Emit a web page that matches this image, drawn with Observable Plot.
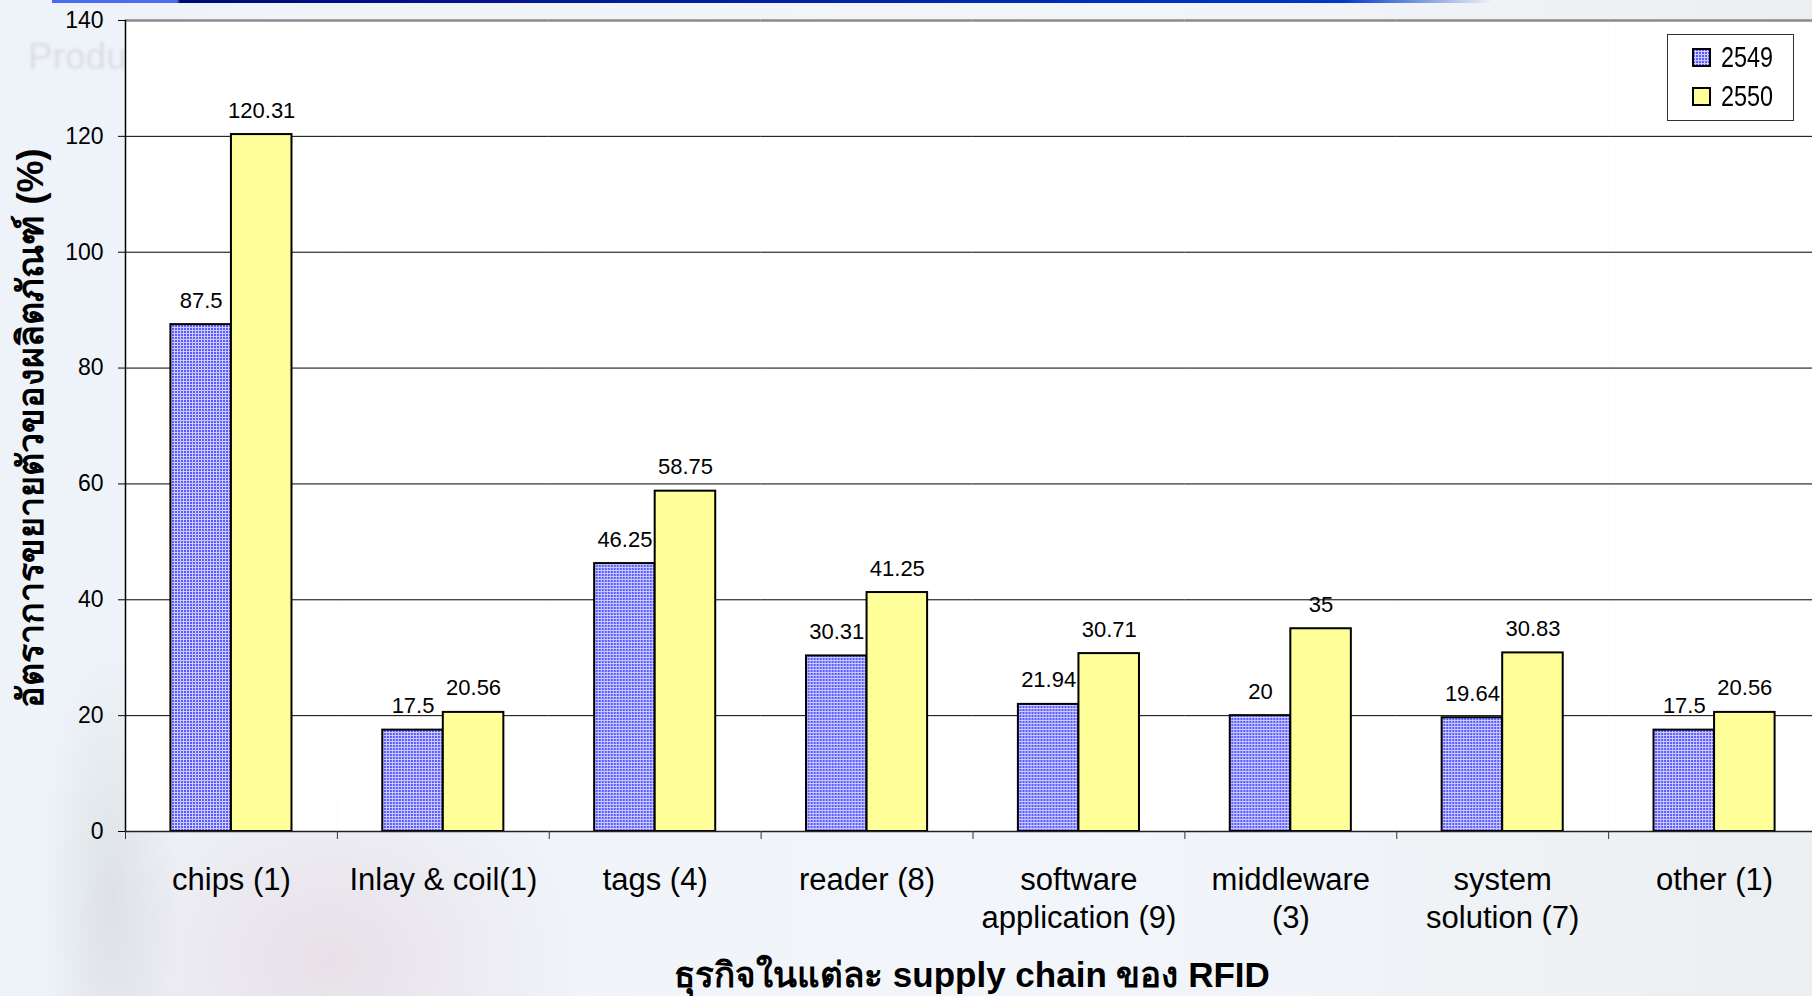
<!DOCTYPE html>
<html>
<head>
<meta charset="utf-8">
<script src="https://cdn.jsdelivr.net/npm/d3@7"></script>
<script src="https://cdn.jsdelivr.net/npm/@observablehq/plot@0.6"></script>
<style>
  html, body { margin: 0; padding: 0; }
  body {
    width: 1812px; height: 996px; overflow: hidden;
    font-family: "Liberation Sans", Arial, sans-serif;
    background:
      radial-gradient(ellipse 260px 220px at 330px 960px, rgba(225,205,215,0.5), rgba(225,205,215,0) 100%),
      radial-gradient(ellipse 70px 260px at 110px 900px, rgba(200,205,205,0.45), rgba(200,205,205,0) 100%),
      linear-gradient(90deg, #eef3f9 0%, #f2f6fa 60%, #eceff2 100%);
  }
  #stage { position: relative; width: 1812px; height: 996px; }
  #stage > * { position: absolute; left: 0; top: 0; }
  #topbar {
    left: 52px; top: 0; width: 1440px; height: 3px;
    background: linear-gradient(90deg, #4a6cf0 0px, #4a6cf0 125px, #000a7a 128px, #0038c8 1290px, rgba(180,200,240,0) 1440px);
  }
  #watermark {
    left: 28px; top: 36px; font-size: 37px; color: #dadde0; filter: blur(1.5px);
  }
  #legend {
    left: 1667px; top: 34px; width: 127px; height: 87px; box-sizing: border-box;
    background: #fff; border: 1px solid #333;
    font-family: "Liberation Sans", Arial, sans-serif;
    font-size: 30px; color: #000;
  }
  #legend .row { position: absolute; left: 24px; height: 34px; display: flex; align-items: center; }
  #legend svg { margin-right: 10px; }
  #legend span { display: inline-block; transform: scaleX(0.78); transform-origin: left center; }
</style>
</head>
<body>
<div id="stage">
  <div id="topbar"></div>
  <div id="watermark">Product</div>
  <div id="chart"></div>
  <svg id="titles" width="1812" height="996"></svg>
  <div id="legend"></div>
</div>
<svg width="0" height="0" style="position:absolute">
  <defs>
    <pattern id="grid2549" width="3" height="3" patternUnits="userSpaceOnUse">
      <rect width="3" height="3" fill="#5a5aff"></rect>
      <rect width="1" height="3" fill="#cbcbff"></rect>
      <rect width="3" height="1" fill="#cbcbff"></rect>
    </pattern>
  </defs>
</svg>
<script>
// Growth rate of RFID products by supply-chain segment, years 2549 and 2550 (B.E.)
const categories = [
  "chips (1)",
  "Inlay & coil(1)",
  "tags (4)",
  "reader (8)",
  "software\napplication (9)",
  "middleware\n(3)",
  "system\nsolution (7)",
  "other (1)"
];
const years = ["2549", "2550"];
const values2549 = [87.5, 17.5, 46.25, 30.31, 21.94, 20, 19.64, 17.5];
const values2550 = [120.31, 20.56, 58.75, 41.25, 30.71, 35, 30.83, 20.56];
const yTicks = [0, 20, 40, 60, 80, 100, 120, 140];
const yTitle = "อัตราการขยายตัวของผลิตภัณฑ์ (%)";
const xTitle = "ธุรกิจในแต่ละ supply chain ของ RFID";
const seriesFills = ["url(#grid2549)", "#ffff99"];

const rows = categories.flatMap((category, i) => [
  {category, year: years[0], value: values2549[i]},
  {category, year: years[1], value: values2550[i]}
]);

// the plot area runs slightly past the right edge of the page
const fxRange = [125, 1820];
const bandwidth = (fxRange[1] - fxRange[0]) / categories.length;

const chart = Plot.plot({
  width: 1812,
  height: 996,
  marginTop: 20,
  marginBottom: 165,
  marginLeft: 125,
  marginRight: 0,
  style: {background: "transparent", fontFamily: "'Liberation Sans', Arial, sans-serif", color: "#000", overflow: "visible"},
  fx: {domain: categories, range: fxRange, padding: 0, round: false, axis: null, label: null},
  x: {domain: years, paddingInner: 0, paddingOuter: 0.75, round: false, axis: null},
  y: {domain: [0, 140], axis: null},
  color: {domain: years, range: seriesFills},
  marks: [
    Plot.frame({fill: "white", stroke: null}),
    Plot.ruleY(yTicks.filter(d => d > 0 && d < 140), {stroke: "#000", strokeWidth: 1}),
    Plot.ruleY([140], {stroke: "#8a8a8a", strokeWidth: 2.5}),
    Plot.barY(rows, {fx: "category", x: "year", y: "value", fill: "year", stroke: "#000", strokeWidth: 2}),
    Plot.ruleY([0], {stroke: "#222", strokeWidth: 1.5}),
    Plot.text(rows, {
      fx: "category", x: "year", y: "value", text: d => String(d.value),
      dy: -17, lineAnchor: "bottom", fontSize: 22, fill: "#000"
    }),
    Plot.frame({anchor: "left", facetAnchor: "left", stroke: "#000", strokeWidth: 1.5}),
    Plot.axisY({ticks: yTicks, tickSize: 7, tickPadding: 15, fontSize: 23, label: null, tickFormat: d => String(d), stroke: "#000"}),
    // category boundary ticks below the axis
    Plot.axisFx({anchor: "bottom", tickSize: 8, tickFormat: () => "", dx: -bandwidth / 2, label: null, stroke: "#333"}),
    // category names
    Plot.axisFx({anchor: "bottom", tickSize: 0, tickPadding: 32, fontSize: 31, lineHeight: 1.22, label: null, fill: "#000"})
  ]
});
document.getElementById("chart").append(chart);

// axis titles
const titles = d3.select("#titles");
titles.append("text")
  .attr("x", 972).attr("y", 987)
  .attr("text-anchor", "middle")
  .attr("font-family", "'Liberation Sans', Arial, Tahoma, sans-serif")
  .attr("font-weight", "bold").attr("font-size", 35)
  .text(xTitle);
titles.append("text")
  .attr("transform", "translate(43,428) rotate(-90)")
  .attr("text-anchor", "middle")
  .attr("font-family", "'Liberation Sans', Arial, Tahoma, sans-serif")
  .attr("font-weight", "bold").attr("font-size", 36)
  .text(yTitle);

// legend
const legend = d3.select("#legend");
years.forEach((y, i) => {
  const row = legend.append("div").attr("class", "row").style("top", `${5 + i * 39}px`);
  const sw = row.append("svg").attr("width", 19).attr("height", 19);
  sw.append("rect").attr("x", 1).attr("y", 1).attr("width", 17).attr("height", 17)
    .attr("fill", seriesFills[i]).attr("stroke", "#000").attr("stroke-width", 2);
  row.append("span").text(y);
});
</script>
</body>
</html>
